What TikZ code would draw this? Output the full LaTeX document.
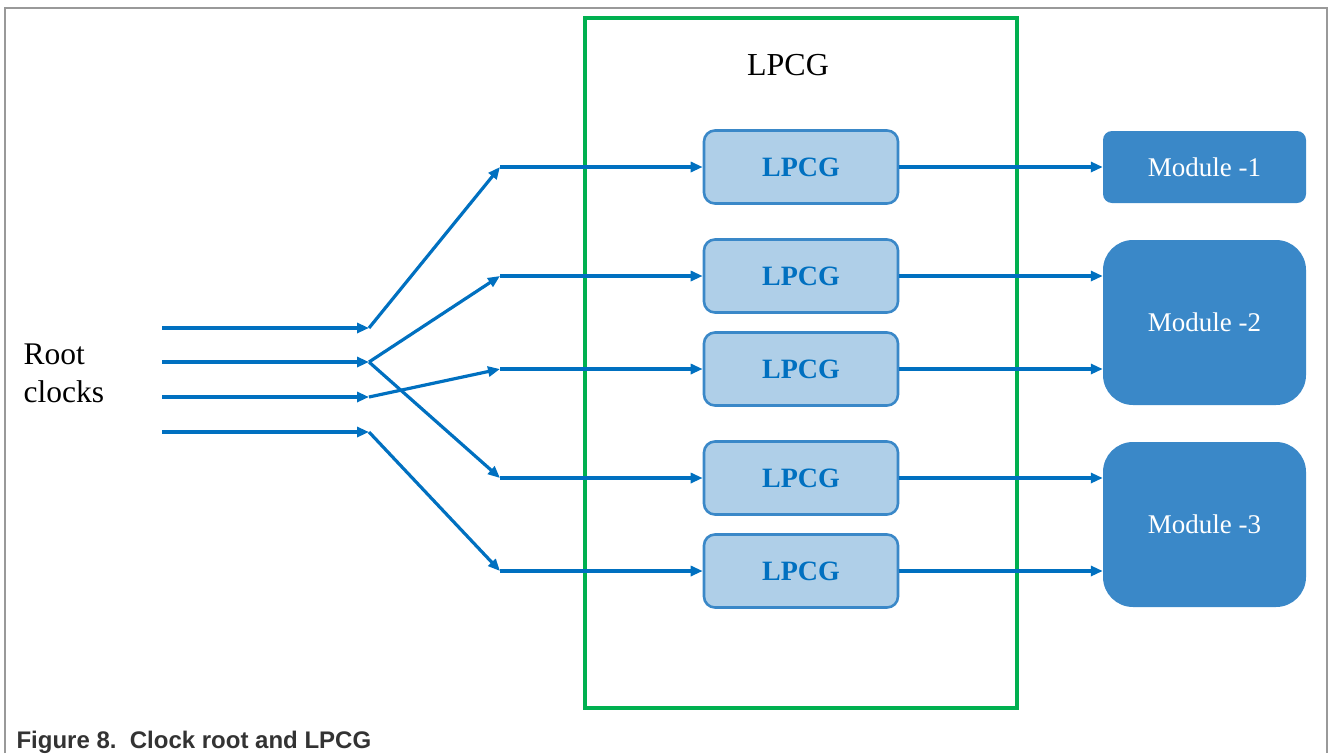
\documentclass[tikz,border=0pt]{standalone}
\usepackage{fontspec}
\setmainfont{Liberation Serif}
\newfontfamily\capfont{Liberation Sans}
\usetikzlibrary{arrows.meta}

\definecolor{wire}{RGB}{0,112,192}
\definecolor{gatefill}{RGB}{175,207,232}
\definecolor{gateedge}{RGB}{58,136,200}
\definecolor{modfill}{RGB}{58,136,200}
\definecolor{framegreen}{RGB}{0,176,80}
\definecolor{captext}{RGB}{51,51,51}

\tikzset{
  wirearrow/.style={draw=wire, line width=3.2pt,
    -{Triangle[length=12pt,width=10pt]}},
  gatebox/.style={draw=gateedge, fill=gatefill, line width=2.6pt,
    rounded corners=11pt, minimum width=194pt, minimum height=73pt,
    inner sep=0pt, text=wire, font=\fontsize{28}{30}\selectfont\bfseries},
  modbox/.style={fill=modfill, draw=none, minimum width=203pt,
    inner sep=0pt, text=white, font=\fontsize{27}{30}\selectfont},
}

\begin{document}
\begin{tikzpicture}[x=1pt,y=-1pt]
  \useasboundingbox (0,0) rectangle (1330,753);

  % page frame (open at the bottom)
  \draw[draw=gray!80, line width=1.5pt] (5,753) -- (5,8) -- (1327,8) -- (1327,753);

  % LPCG block outline and title
  \draw[draw=framegreen, line width=4pt] (585,18) rectangle (1017,708);
  \node[anchor=base, font=\fontsize{32}{34}\selectfont] (title) at (788,75) {LPCG};

  % clock gates
  \node[gatebox] (g1) at (801,167) {\raisebox{-2pt}{LPCG}};
  \node[gatebox] (g2) at (801,276) {\raisebox{-2pt}{LPCG}};
  \node[gatebox] (g3) at (801,369) {\raisebox{-2pt}{LPCG}};
  \node[gatebox] (g4) at (801,478) {\raisebox{-2pt}{LPCG}};
  \node[gatebox] (g5) at (801,571) {\raisebox{-2pt}{LPCG}};

  % modules
  \node[modbox, rounded corners=9pt, minimum height=72pt] (m1) at (1204.5,167) {Module -1};
  \node[modbox, rounded corners=30pt, minimum height=165pt] (m2) at (1204.5,322.5) {Module -2};
  \node[modbox, rounded corners=30pt, minimum height=165pt] (m3) at (1204.5,524.5) {Module -3};

  % root clock label
  \node[anchor=base west, align=left, font=\fontsize{31.5}{38}\selectfont] (root) at (20,402)
    {Root\\clocks};

  % root clock inputs
  \coordinate (s1) at (162,328);
  \coordinate (s2) at (162,362);
  \coordinate (s3) at (162,397);
  \coordinate (s4) at (162,432);
  \coordinate (r1) at (369,328);
  \coordinate (r2) at (369,362);
  \coordinate (r3) at (369,397);
  \coordinate (r4) at (369,432);

  % fan-out points
  \coordinate (f1) at (500,167);
  \coordinate (f2) at (500,276);
  \coordinate (f3) at (500,369);
  \coordinate (f4) at (500,478);
  \coordinate (f5) at (500,571);

  \foreach \i in {1,2,3,4} \draw[wirearrow] (s\i) -- (r\i);

  \draw[wirearrow] (r1) -- (f1);
  \draw[wirearrow] (r2) -- (f2);
  \draw[wirearrow] (r2) -- (f4);
  \draw[wirearrow] (r3) -- (f3);
  \draw[wirearrow] (r4) -- (f5);

  \foreach \i in {1,...,5} \draw[wirearrow] (f\i) -- (g\i.west);

  % gate outputs to modules
  \draw[wirearrow] (g1.east) -- (m1.west);
  \draw[wirearrow] (g2.east) -- (m2.west |- g2.east);
  \draw[wirearrow] (g3.east) -- (m2.west |- g3.east);
  \draw[wirearrow] (g4.east) -- (m3.west |- g4.east);
  \draw[wirearrow] (g5.east) -- (m3.west |- g5.east);

  % caption
  \node[anchor=base west, text=captext, font=\capfont\bfseries\fontsize{24}{26}\selectfont]
    (cap) at (13,748) {Figure 8.\ \ Clock root and LPCG};
\end{tikzpicture}
\end{document}
